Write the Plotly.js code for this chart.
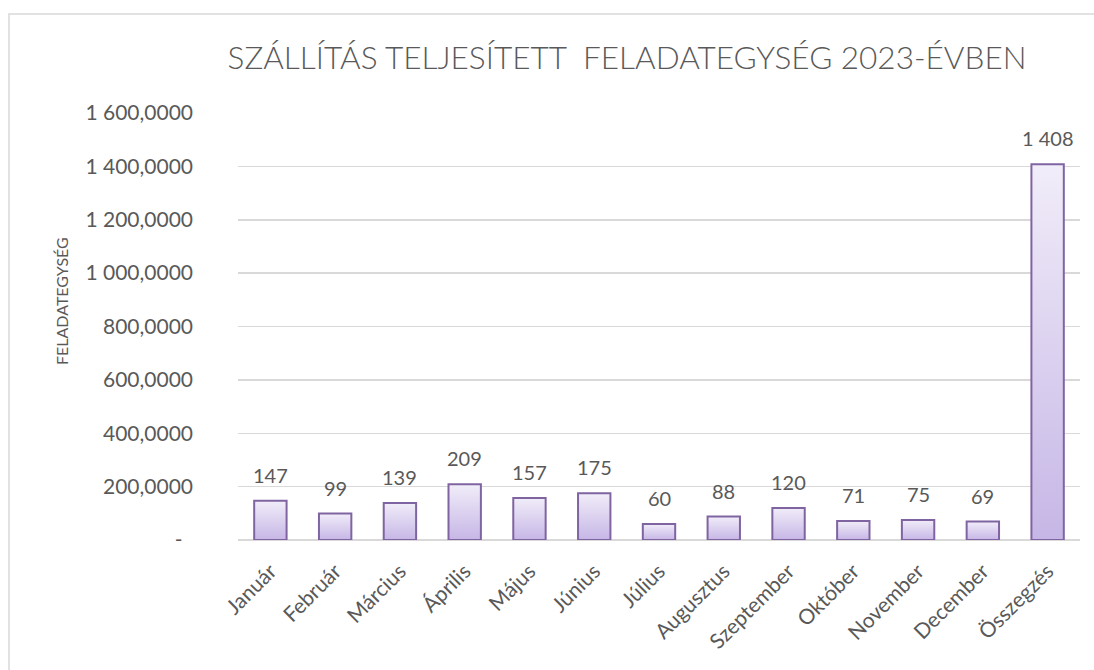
<!DOCTYPE html>
<html>
<head>
<meta charset="utf-8">
<script src="https://cdn.plot.ly/plotly-3.0.1.min.js"></script>
<style>
  html, body { margin: 0; padding: 0; background: #ffffff; }
  #chart { width: 1094px; height: 670px; }
</style>
</head>
<body>
<div id="chart"></div>
<script>
// ---- data ----
const categories = ["Január", "Február", "Március", "Április", "Május", "Június", "Július",
  "Augusztus", "Szeptember", "Október", "November", "December", "Összegzés"];
const values = [147, 99, 139, 209, 157, 175, 60, 88, 120, 71, 75, 69, 1408];
const tickVals = [0, 200, 400, 600, 800, 1000, 1200, 1400, 1600];
const tickText = ["-\u2002", "200,0000", "400,0000", "600,0000", "800,0000",
  "1 000,0000", "1 200,0000", "1 400,0000", "1 600,0000"];
const chartTitle = "SZÁLLÍTÁS TELJESÍTETT\u00a0 FELADATEGYSÉG 2023-ÉVBEN";
const yTitle = "FELADATEGYSÉG";

const FONT = "Lato, 'Open Sans', sans-serif";
const GRAY = "#595959";

function fmt(v) {
  return String(Math.round(v)).replace(/\B(?=(\d{3})+(?!\d))/g, "\u00a0");
}

const data = [{
  type: "bar",
  x: categories,
  y: values,
  marker: { color: "#d9cdef", line: { color: "#8064a2", width: 2 } },
  hoverinfo: "skip"
}];

const annotations = categories.map((c, i) => ({
  x: c, y: values[i], xref: "x", yref: "y",
  text: fmt(values[i]),
  showarrow: false, yanchor: "bottom", yshift: 12,
  font: { family: FONT, size: 20, color: GRAY }
}));
// y-axis title (placed as in the reference, slightly above the plot centre)
annotations.push({
  xref: "paper", yref: "paper",
  x: (61 - 238) / 842, y: (540 - 301) / 427,
  xanchor: "center", yanchor: "middle",
  text: yTitle, textangle: -90, showarrow: false,
  font: { family: FONT, size: 16, color: GRAY }
});

const layout = {
  width: 1094, height: 670,
  margin: { l: 238, r: 14, t: 113, b: 130 },
  paper_bgcolor: "#ffffff", plot_bgcolor: "#ffffff",
  font: { family: FONT, color: GRAY, size: 20 },
  title: {
    text: chartTitle,
    font: { family: FONT, size: 31.5, color: GRAY, weight: 300 },
    xref: "container", x: 627 / 1094, xanchor: "center",
    yref: "container", y: 1 - 58 / 670, yanchor: "middle"
  },
  bargap: 0.5,
  showlegend: false,
  xaxis: {
    type: "category",
    tickangle: -45,
    tickfont: { family: FONT, size: 21, color: GRAY },
    ticklabelstandoff: 14,
    showgrid: false, zeroline: false, showline: false,
    ticks: "", automargin: false
  },
  yaxis: {
    range: [0, 1600],
    tickvals: tickVals, ticktext: tickText,
    tickfont: { family: FONT, size: 21, color: GRAY },
    ticklabelstandoff: 44,
    showgrid: true, gridcolor: "#d9d9d9", gridwidth: 1.5,
    zeroline: true, zerolinecolor: "#d9d9d9", zerolinewidth: 1.5,
    showline: false, ticks: "", automargin: false
  },
  annotations: annotations,
  shapes: [{
    type: "rect", xref: "paper", yref: "paper",
    x0: (9 - 238) / 842, x1: 1.2, y0: -0.6, y1: (540 - 14) / 427,
    line: { color: "#d9d9d9", width: 1.5 }, fillcolor: "rgba(0,0,0,0)", layer: "below"
  }]
};

Plotly.newPlot("chart", data, layout, { staticPlot: true, displayModeBar: false }).then(gd => {
  const ns = "http://www.w3.org/2000/svg";
  const svg = gd.querySelector("svg.main-svg");
  let defs = svg.querySelector("defs");
  if (!defs) { defs = document.createElementNS(ns, "defs"); svg.insertBefore(defs, svg.firstChild); }
  const lg = document.createElementNS(ns, "linearGradient");
  lg.setAttribute("id", "barGrad");
  lg.setAttribute("x1", "0"); lg.setAttribute("y1", "0");
  lg.setAttribute("x2", "0"); lg.setAttribute("y2", "1");
  [["0", "#f1edf9"], ["1", "#c6b6e6"]].forEach(([o, c]) => {
    const s = document.createElementNS(ns, "stop");
    s.setAttribute("offset", o); s.setAttribute("stop-color", c);
    lg.appendChild(s);
  });
  defs.appendChild(lg);
  gd.querySelectorAll(".barlayer .point path").forEach(p => { p.style.fill = "url(#barGrad)"; });
});
</script>
</body>
</html>
